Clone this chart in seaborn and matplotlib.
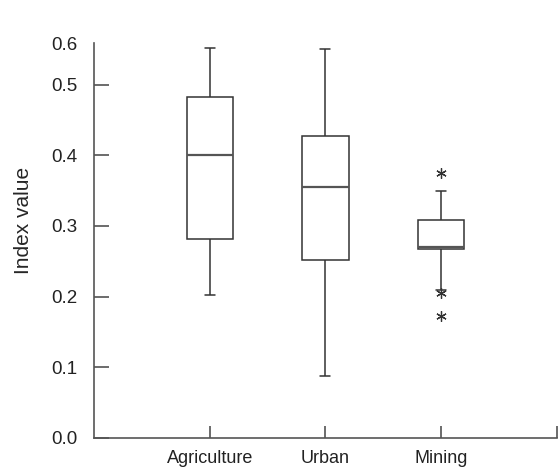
import matplotlib
matplotlib.use("Agg")
import matplotlib.pyplot as plt
import seaborn as sns
import pandas as pd

# Data (values reproduce the drawn box statistics)
categories = ["Agriculture", "Urban", "Mining"]
agriculture = [0.203, 0.282, 0.401, 0.482, 0.552]
urban = [0.088, 0.252, 0.355, 0.427, 0.551]
mining = [0.173, 0.205, 0.210, 0.268, 0.269, 0.269, 0.270,
          0.285, 0.300, 0.308, 0.330, 0.349, 0.375]
y_ticks = [0.0, 0.1, 0.2, 0.3, 0.4, 0.5]
y_tick_labels = ["0.0", "0.1", "0.2", "0.3", "0.4", "0.5"]
y_top = 0.559
y_top_label = "0.6"

df = pd.DataFrame({
    "group": ["Agriculture"] * len(agriculture) + ["Urban"] * len(urban) + ["Mining"] * len(mining),
    "value": agriculture + urban + mining,
})

sns.set_style("ticks")
plt.rcParams["font.family"] = ["Liberation Sans", "DejaVu Sans"]

fig = plt.figure(figsize=(5.58, 4.67), dpi=100)
ax = fig.add_axes([0.1685, 0.0623, 0.8293, 0.8456])

line_col = "#333333"
sns.boxplot(data=df, x="group", y="value", order=categories, ax=ax,
            width=0.4, color="white", linecolor=line_col, linewidth=1.1,
            whis=1.5, capwidths=0.086,
            flierprops=dict(marker=(6, 2, 0), markersize=7.5, markeredgecolor=line_col,
                            markeredgewidth=0.9),
            medianprops=dict(color="#555555", linewidth=1.6))

ax.set_xlim(-1, 3)
ax.set_ylim(0, y_top)
ax.set_xticks([0, 1, 2, 3])
ax.set_xticklabels(categories + [""])
ax.set_yticks(y_ticks + [y_top])
ax.set_yticklabels(y_tick_labels + [y_top_label])
ax.yaxis.get_major_ticks()[-1].tick1line.set_visible(False)

ax.set_xlabel("")
ax.set_ylabel("Index value", fontsize=15)
ax.yaxis.set_label_coords(-0.132, 0.55)
for s in ["top", "right"]:
    ax.spines[s].set_visible(False)
for s in ["left", "bottom"]:
    ax.spines[s].set_color("#555555")
    ax.spines[s].set_linewidth(1.2)

ax.tick_params(axis="y", direction="in", length=11, width=1.1, color="#444444",
               labelsize=13.5, pad=12, labelcolor="#222222")
ax.tick_params(axis="x", direction="in", length=9, width=1.1, color="#444444",
               labelsize=13, pad=8.5, labelcolor="#222222")

fig.savefig("out.png", dpi=100)
